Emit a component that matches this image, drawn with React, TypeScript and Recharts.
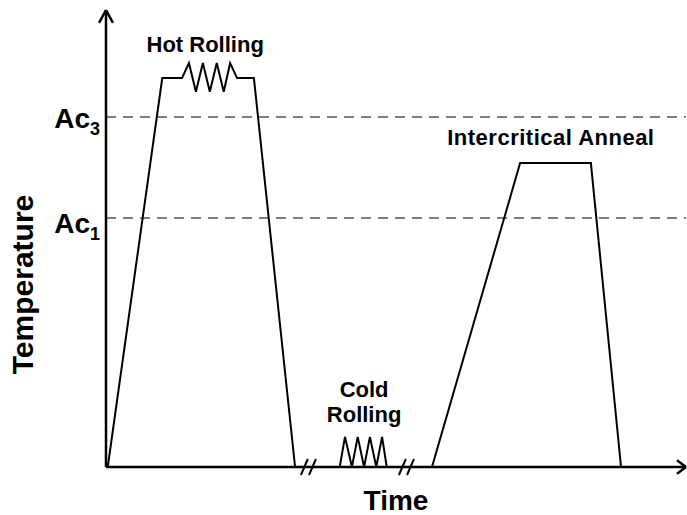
import {
  LineChart,
  Line,
  XAxis,
  YAxis,
  ReferenceLine,
  ReferenceDot
} from "recharts";

document.body.style.margin = "0";

// heat-treatment profile, time vs temperature (arbitrary 0-100 units)
const PROFILE_TIME = [
  0.3, 9.7, 13.1, 14.3, 15.5, 16.7, 17.9, 19.1, 20.3, 21.4, 22.6, 25.5, 32.6,
  40.3, 41.2, 42.4, 43.4, 44.5, 45.5, 46.6, 47.6, 48.4,
  56.2, 71.4, 83.6, 88.8
];
const PROFILE_TEMP = [
  0, 85.1, 85.1, 88.4, 82.1, 88.4, 82.1, 88.4, 82.1, 88.4, 85.1, 85.1, 0,
  0, 6.6, 0, 6.6, 0, 6.6, 0, 6.6, 0,
  0, 66.5, 66.5, 0
];

// critical temperatures
const AC3 = 76.6;
const AC1 = 54.5;

// "//" axis break marks (start time of each slash)
const BREAK_TIMES = [33.6, 35.0, 50.5, 51.9];

const profileData = PROFILE_TIME.map((t, i) => ({ t, temp: PROFILE_TEMP[i] }));

const FONT = '"Liberation Sans", Arial, sans-serif';

const AcLabel = ({ viewBox, sub, dy }: any) => (
  <text
    x={viewBox.x - 6}
    y={viewBox.y + dy}
    textAnchor="end"
    fontFamily={FONT}
    fontWeight="bold"
    fontSize={28}
    fill="#000"
  >
    Ac
    <tspan fontSize={18} dy={7}>
      {sub}
    </tspan>
  </text>
);

const TempLabel = ({ viewBox }: any) => {
  const x = viewBox.x + 33;
  const y = viewBox.y + viewBox.height / 2 + 46;
  return (
    <text
      x={x}
      y={y}
      transform={`rotate(-90 ${x} ${y})`}
      textAnchor="middle"
      fontFamily={FONT}
      fontWeight="bold"
      fontSize={30}
      fill="#000"
    >
      Temperature
    </text>
  );
};

const TimeLabel = ({ viewBox }: any) => (
  <text
    x={viewBox.x + viewBox.width / 2}
    y={viewBox.y + 43}
    textAnchor="middle"
    fontFamily={FONT}
    fontWeight="bold"
    fontSize={28}
    fill="#000"
  >
    Time
  </text>
);

const note = (lines: string[], spacing = 0) => (p: any) => (
  <text
    x={p.cx}
    y={p.cy}
    textAnchor="middle"
    fontFamily={FONT}
    fontWeight="bold"
    fontSize={22}
    letterSpacing={spacing}
    fill="#000"
  >
    {lines.map((s, i) => (
      <tspan key={s} x={p.cx} dy={i === 0 ? 0 : 25}>
        {s}
      </tspan>
    ))}
  </text>
);

const axisStyle = { stroke: "#000", strokeWidth: 2.5 };

export default function App() {
  return (
    <div style={{ background: "#fff", width: 687, height: 515 }}>
      <LineChart
        width={687}
        height={515}
        data={profileData}
        margin={{ top: 10, right: 1, bottom: 0, left: 0 }}
      >
        <XAxis
          dataKey="t"
          type="number"
          domain={[0, 100]}
          height={48}
          tick={false}
          tickLine={false}
          axisLine={axisStyle}
          label={<TimeLabel />}
        />
        <YAxis
          type="number"
          domain={[0, 100]}
          width={106}
          tick={false}
          tickLine={false}
          axisLine={axisStyle}
          label={<TempLabel />}
        />

        <ReferenceLine
          y={AC3}
          stroke="#7f7f7f"
          strokeWidth={2}
          strokeDasharray="10 7"
          label={<AcLabel sub="3" dy={11} />}
        />
        <ReferenceLine
          y={AC1}
          stroke="#7f7f7f"
          strokeWidth={2}
          strokeDasharray="10 7"
          label={<AcLabel sub="1" dy={15} />}
        />

        {/* arrow heads */}
        <ReferenceLine
          segment={[{ x: -1.2, y: 97.2 }, { x: 0, y: 100 }, ]}
          ifOverflow="visible"
          stroke="#000"
          strokeWidth={2.5}
        />
        <ReferenceLine
          segment={[{ x: 1.2, y: 97.2 }, { x: 0, y: 100 }]}
          ifOverflow="visible"
          stroke="#000"
          strokeWidth={2.5}
        />
        <ReferenceLine
          segment={[{ x: 98.45, y: 1.5 }, { x: 100, y: 0 }]}
          ifOverflow="visible"
          stroke="#000"
          strokeWidth={2.5}
        />
        <ReferenceLine
          segment={[{ x: 98.45, y: -1.5 }, { x: 100, y: 0 }]}
          ifOverflow="visible"
          stroke="#000"
          strokeWidth={2.5}
        />

        {BREAK_TIMES.map((t) => (
          <ReferenceLine
            key={t}
            segment={[{ x: t, y: -1.75 }, { x: t + 1.2, y: 1.75 }]}
            ifOverflow="visible"
            stroke="#000"
            strokeWidth={2}
          />
        ))}

        <Line
          dataKey="temp"
          type="linear"
          stroke="#000"
          strokeWidth={2}
          dot={false}
          activeDot={false}
          isAnimationActive={false}
        />

        <ReferenceDot x={17.1} y={90.8} r={0} ifOverflow="visible" shape={note(["Hot Rolling"])} />
        <ReferenceDot x={76.7} y={70.5} r={0} ifOverflow="visible" shape={note(["Intercritical Anneal"], 0.5)} />
        <ReferenceDot x={44.5} y={15.3} r={0} ifOverflow="visible" shape={note(["Cold", "Rolling"])} />
      </LineChart>
    </div>
  );
}
